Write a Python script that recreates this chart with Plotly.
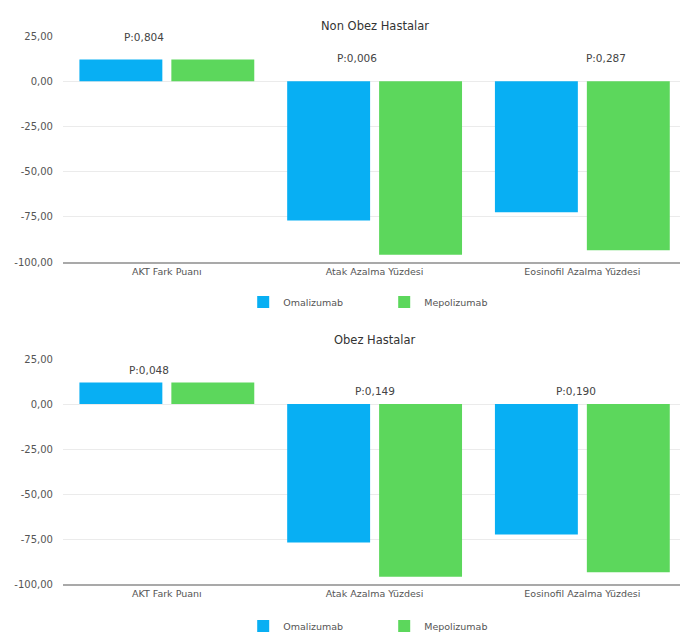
import plotly.graph_objects as go

# Categories and series values (same measures for both patient groups)
categories = ["AKT Fark Puanı", "Atak Azalma Yüzdesi", "Eosinofil Azalma Yüzdesi"]
series_names = ["Omalizumab", "Mepolizumab"]
colors = ["#08aff3", "#5cd75c"]

non_obez_omalizumab = [12, -77, -72.5]
non_obez_mepolizumab = [12, -96, -93.5]
obez_omalizumab = [12, -77, -72.5]
obez_mepolizumab = [12, -96, -93.5]

non_obez_p = ["P:0,804", "P:0,006", "P:0,287"]
non_obez_p_y = [24.5, 13, 13]
obez_p = ["P:0,048", "P:0,149", "P:0,190"]
obez_p_y = [19, 7, 7]
p_xshift = [-23, -18, 24]
obez_p_xshift = [-18, 0, -6]

tick_vals = [25, 0, -25, -50, -75, -100]
tick_text = ["25,00", "0,00", "-25,00", "-50,00", "-75,00", "-100,00"]

titles = ["Non Obez Hastalar", "Obez Hastalar"]

font_family = "DejaVu Sans, Verdana, sans-serif"

fig = go.Figure()

panels = [
    (non_obez_omalizumab, non_obez_mepolizumab, "x", "y", "legend"),
    (obez_omalizumab, obez_mepolizumab, "x2", "y2", "legend2"),
]
for oma, mepo, xa, ya, lg in panels:
    for name, vals, col in zip(series_names, [oma, mepo], colors):
        fig.add_trace(go.Bar(
            x=categories, y=vals, name=name, marker_color=col,
            marker_line_width=0, xaxis=xa, yaxis=ya, legend=lg,
            hoverinfo="skip",
        ))

axis_common_x = dict(
    type="category", range=[-0.5, 2.47], domain=[0.0926, 1.0],
    showgrid=False, showline=True, linecolor="#a9a9a9", linewidth=2,
    ticks="", tickfont=dict(size=9.5, color="#555", family=font_family),
    fixedrange=True, automargin=False,
)
axis_common_y = dict(
    range=[-100, 25], tickvals=tick_vals, ticktext=tick_text,
    showgrid=True, gridcolor="#ebebeb", gridwidth=1, zeroline=False,
    ticks="", ticklabelstandoff=9,
    tickfont=dict(size=10, color="#555", family=font_family),
    fixedrange=True, automargin=False,
)

annotations = []
for i, (txt, yv) in enumerate(zip(non_obez_p, non_obez_p_y)):
    annotations.append(dict(x=categories[i], y=yv, xref="x", yref="y", text=txt,
                            showarrow=False, xshift=p_xshift[i],
                            font=dict(size=10.5, color="#444", family=font_family)))
for i, (txt, yv) in enumerate(zip(obez_p, obez_p_y)):
    annotations.append(dict(x=categories[i], y=yv, xref="x2", yref="y2", text=txt,
                            showarrow=False, xshift=obez_p_xshift[i],
                            font=dict(size=10.5, color="#444", family=font_family)))
for t, yp in zip(titles, [1 - 17 / 635, 1 - 340 / 635]):
    annotations.append(dict(x=(63 + 687) / 2 / 680, y=yp, xref="paper", yref="paper",
                            text=t, showarrow=False,
                            font=dict(size=11.5, color="#333", family=font_family)))

legend_common = dict(
    orientation="h", xanchor="center", x=0.565, yanchor="middle",
    font=dict(size=9.5, color="#555", family=font_family),
    entrywidth=96, entrywidthmode="pixels", itemwidth=30,
    bgcolor="rgba(0,0,0,0)",
)

fig.update_layout(
    width=680, height=635,
    margin=dict(l=0, r=0, t=0, b=0, autoexpand=False),
    paper_bgcolor="white", plot_bgcolor="white",
    barmode="group", bargap=0.115, bargroupgap=0.098,
    xaxis=dict(axis_common_x, anchor="y"),
    yaxis=dict(axis_common_y, anchor="x", domain=[(635 - 262) / 635, (635 - 36) / 635]),
    xaxis2=dict(axis_common_x, anchor="y2"),
    yaxis2=dict(axis_common_y, anchor="x2", domain=[(635 - 584) / 635, (635 - 359) / 635]),
    legend=dict(legend_common, y=1 - 302 / 635),
    legend2=dict(legend_common, y=1 - 626 / 635),
    annotations=annotations,
    showlegend=True,
)

fig.write_html("out.html")
